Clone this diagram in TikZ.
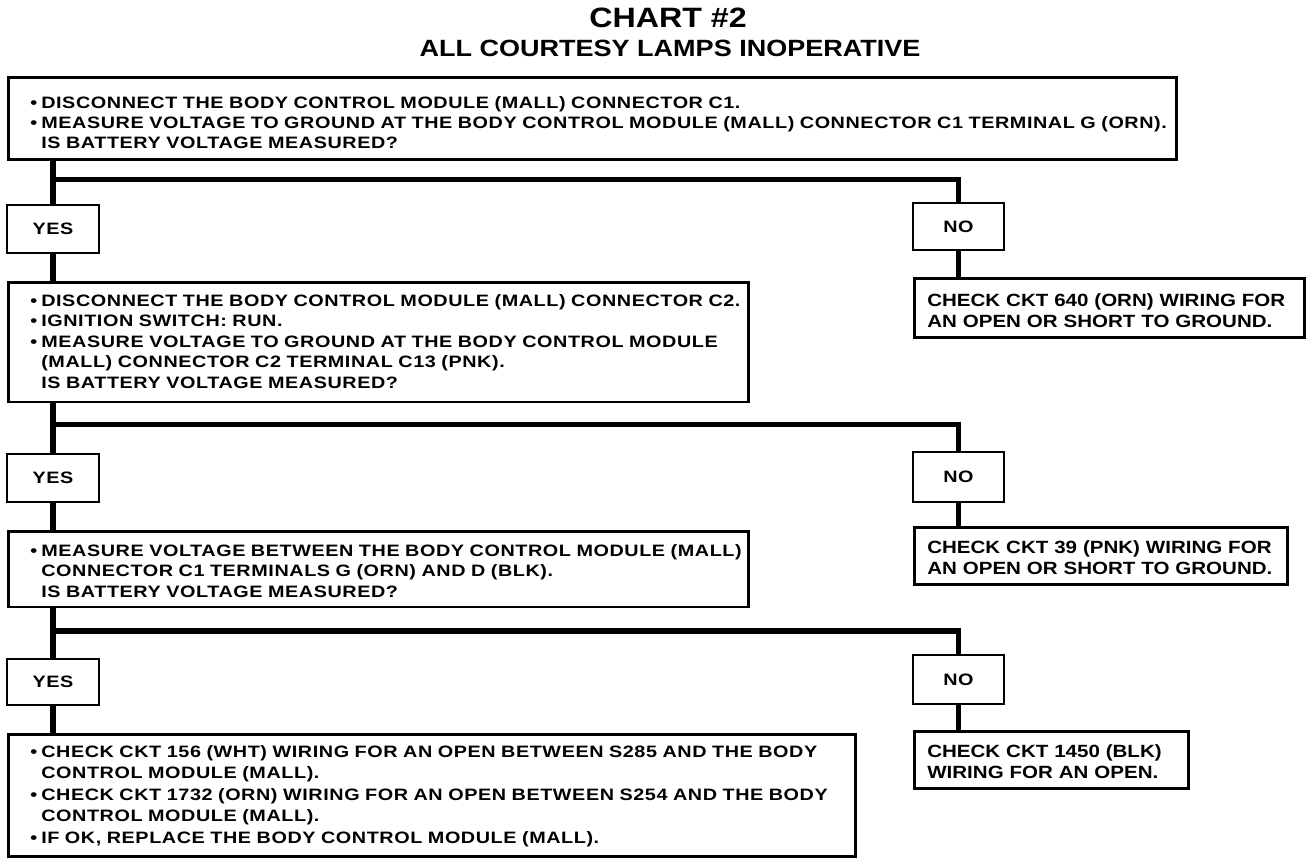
\documentclass[tikz,border=0pt]{standalone}
\usepackage{fontspec}
\setmainfont{Liberation Sans}
\newfontfamily\bodyfont[FakeStretch=1.2,LetterSpace=3.5]{Liberation Sans}
\newfontfamily\checkfont[FakeStretch=1.16]{Liberation Sans}
\newfontfamily\titlefont[FakeStretch=1.15]{Liberation Sans}
\newcommand{\bul}{\makebox[11pt][l]{\textbullet}}
\newcommand{\ind}{\hspace*{11pt}}
\newcommand{\row}[1]{\mbox{#1}}
\begin{document}
\begin{tikzpicture}[x=1pt,y=-1pt,
  qbox/.style={draw, line width=2.6pt, anchor=north west, inner ysep=0pt, inner xsep=22pt, align=left},
  cbox/.style={draw, line width=2.6pt, anchor=north west, inner ysep=0pt, inner xsep=13pt, align=left,
     font=\checkfont\bfseries\fontsize{17.7}{21}\selectfont},
  ynbox/.style={draw, line width=2.6pt, inner sep=0pt, font=\bodyfont\bfseries\fontsize{16.5}{20}\selectfont},
  conn/.style={line width=5.5pt}]
\useasboundingbox (0,0) rectangle (1312,864);

\node[font=\titlefont\bfseries\fontsize{28}{30}\selectfont] (t1) at (668,18) {CHART \#2};
\node[font=\titlefont\bfseries\fontsize{23.5}{26}\selectfont] (t2) at (670,48) {ALL COURTESY LAMPS INOPERATIVE};

% question boxes
\node[qbox, text width=1124pt, text height=31.5pt, text depth=50.5pt,
  font=\bodyfont\bfseries\fontsize{16.5}{20}\selectfont] (q1) at (7,76)
 {\row{\bul DISCONNECT THE BODY CONTROL MODULE (MALL) CONNECTOR C1.}\\
  \row{\bul MEASURE VOLTAGE TO GROUND AT THE BODY CONTROL MODULE (MALL) CONNECTOR C1 TERMINAL G (ORN).}\\
  \row{\ind IS BATTERY VOLTAGE MEASURED?}};

\node[qbox, text width=696pt, text height=24pt, text depth=95.5pt,
  font=\bodyfont\bfseries\fontsize{16.5}{20.5}\selectfont] (q2) at (7,281)
 {\row{\bul DISCONNECT THE BODY CONTROL MODULE (MALL) CONNECTOR C2.}\\
  \row{\bul IGNITION SWITCH: RUN.}\\
  \row{\bul MEASURE VOLTAGE TO GROUND AT THE BODY CONTROL MODULE}\\
  \row{\ind (MALL) CONNECTOR C2 TERMINAL C13 (PNK).}\\
  \row{\ind IS BATTERY VOLTAGE MEASURED?}};

\node[qbox, text width=696pt, text height=25pt, text depth=50.5pt,
  font=\bodyfont\bfseries\fontsize{16.5}{20.5}\selectfont] (q3) at (7,530)
 {\row{\bul MEASURE VOLTAGE BETWEEN THE BODY CONTROL MODULE (MALL)}\\
  \row{\ind CONNECTOR C1 TERMINALS G (ORN) AND D (BLK).}\\
  \row{\ind IS BATTERY VOLTAGE MEASURED?}};

\node[qbox, text width=803pt, text height=23pt, text depth=99pt,
  font=\bodyfont\bfseries\fontsize{16.5}{21.5}\selectfont] (q4) at (7,733)
 {\row{\bul CHECK CKT 156 (WHT) WIRING FOR AN OPEN BETWEEN S285 AND THE BODY}\\
  \row{\ind CONTROL MODULE (MALL).}\\
  \row{\bul CHECK CKT 1732 (ORN) WIRING FOR AN OPEN BETWEEN S254 AND THE BODY}\\
  \row{\ind CONTROL MODULE (MALL).}\\
  \row{\bul IF OK, REPLACE THE BODY CONTROL MODULE (MALL).}};

% check boxes
\node[cbox, text width=364pt, text height=28pt, text depth=31pt] (c1) at (913,277)
 {\row{CHECK CKT 640 (ORN) WIRING FOR}\\ \row{AN OPEN OR SHORT TO GROUND.}};
\node[cbox, text width=347pt, text height=26.4pt, text depth=30.6pt] (c2) at (913,526)
 {\row{CHECK CKT 39 (PNK) WIRING FOR}\\ \row{AN OPEN OR SHORT TO GROUND.}};
\node[cbox, text width=248pt, text height=26.4pt, text depth=30.6pt] (c3) at (913,730)
 {\row{CHECK CKT 1450 (BLK)}\\ \row{WIRING FOR AN OPEN.}};

% yes / no boxes
\node[ynbox, minimum width=92pt, minimum height=48pt] (y1) at (53,229) {YES};
\node[ynbox, minimum width=91pt, minimum height=47pt] (n1) at (958.5,226.5) {NO};
\node[ynbox, minimum width=92pt, minimum height=48pt] (y2) at (53,478) {YES};
\node[ynbox, minimum width=91pt, minimum height=50pt] (n2) at (958.5,477) {NO};
\node[ynbox, minimum width=92pt, minimum height=46pt] (y3) at (53,682) {YES};
\node[ynbox, minimum width=91pt, minimum height=49pt] (n3) at (958.5,679.5) {NO};

\coordinate (j1) at (53,179.5);
\coordinate (j2) at (53,424.5);
\coordinate (j3) at (53,631);

% connectors
\draw[conn] (q1.south -| y1.north) -- (y1.north);
\draw[conn] (j1) -| (n1.north);
\draw[conn] (y1.south) -- (y1.south |- q2.north);
\draw[conn] (n1.south) -- (n1.south |- c1.north);

\draw[conn] (q2.south -| y2.north) -- (y2.north);
\draw[conn] (j2) -| (n2.north);
\draw[conn] (y2.south) -- (y2.south |- q3.north);
\draw[conn] (n2.south) -- (n2.south |- c2.north);

\draw[conn] (q3.south -| y3.north) -- (y3.north);
\draw[conn] (j3) -| (n3.north);
\draw[conn] (y3.south) -- (y3.south |- q4.north);
\draw[conn] (n3.south) -- (n3.south |- c3.north);
\end{tikzpicture}
\end{document}
